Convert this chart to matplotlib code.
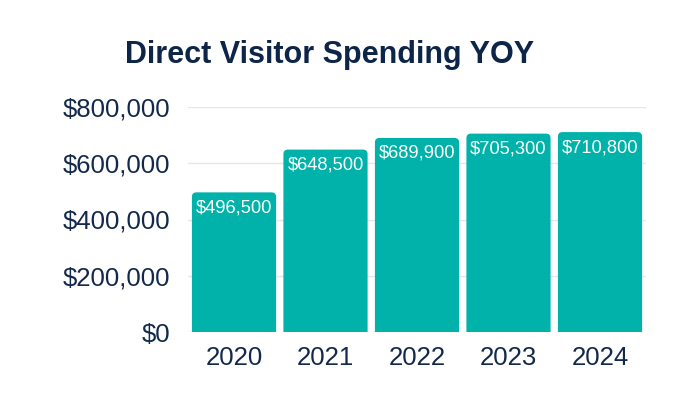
import matplotlib
matplotlib.use("Agg")
import matplotlib.pyplot as plt
from matplotlib.patches import FancyBboxPatch
from matplotlib.ticker import FuncFormatter

years = ["2020", "2021", "2022", "2023", "2024"]
spending = [496500, 648500, 689900, 705300, 710800]
yticks = [0, 200000, 400000, 600000, 800000]

plt.rcParams['font.family'] = ['Liberation Sans', 'DejaVu Sans']

navy = '#13294b'
teal = '#00b2a9'

fig = plt.figure(figsize=(7, 4.08), dpi=100)
ax = fig.add_axes([188.25/700, (408-332)/408, 457.5/700, 225/408])

x = list(range(len(years)))
bars = ax.bar(x, spending, width=0.92, color=teal, zorder=2)

# rounded top corners
px_x = 1/91.5
px_y = 800000/225
r = 4.5
for b in bars:
    bx, bw, bh = b.get_x(), b.get_width(), b.get_height()
    b.set_visible(False)
    pad_x = r*px_x
    patch = FancyBboxPatch((bx + pad_x, -30000 + r*px_y), bw - 2*pad_x, bh + 30000 - 2*r*px_y,
                           boxstyle=f"round,pad={pad_x},rounding_size={pad_x}",
                           mutation_aspect=px_y/px_x,
                           facecolor=teal, edgecolor='none', zorder=2)
    ax.add_patch(patch)

for xi, v in zip(x, spending):
    ax.annotate(f"${v:,}", (xi, v), xytext=(0, -5), textcoords='offset points',
                ha='center', va='top', color='white', fontsize=13.2, zorder=3)

ax.set_xlim(-0.5, 4.5)
ax.set_ylim(0, 800000)
ax.set_yticks(yticks)
ax.yaxis.set_major_formatter(FuncFormatter(lambda v, p: f"${int(v):,}"))
ax.set_xticks(x)
ax.set_xticklabels(years)
ax.grid(axis='y', color='#e6e6e6', linewidth=1, zorder=0)
ax.set_axisbelow(True)
for s in ax.spines.values():
    s.set_visible(False)
ax.tick_params(axis='both', length=0, labelsize=18.5, labelcolor=navy)
ax.tick_params(axis='y', pad=13)
ax.tick_params(axis='x', pad=10)

fig.text(330/700, 1 - 55/408, "Direct Visitor Spending YOY", ha='center', va='center',
         fontsize=22, fontweight='bold', color='#0d2548')

fig.savefig("out.png", dpi=100)
